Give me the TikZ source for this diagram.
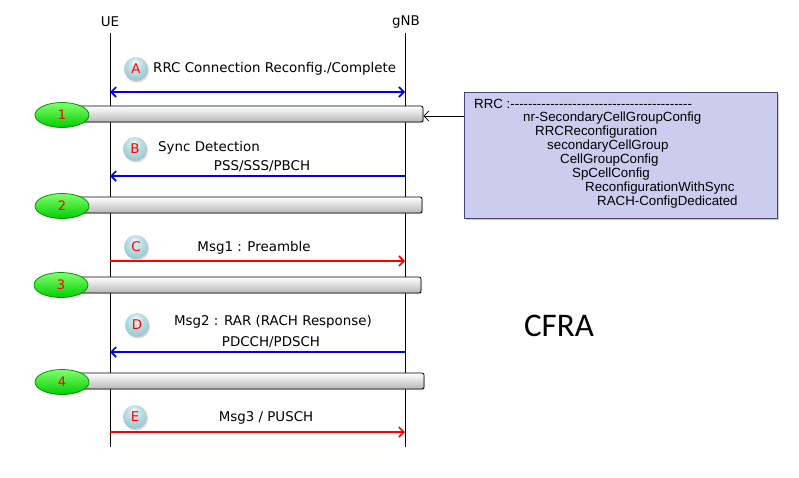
\documentclass[tikz,border=0pt]{standalone}
\usepackage{fontspec}
\setmainfont{DejaVu Sans}
\newfontfamily\boxfont{Liberation Sans}
\newfontfamily\bigfont{Carlito}
\usetikzlibrary{arrows.meta,shadows,shapes.geometric}
\definecolor{msgblue}{RGB}{0,0,240}
\definecolor{msgred}{RGB}{250,0,0}
\definecolor{boxfill}{RGB}{204,204,238}
\definecolor{boxedge}{RGB}{70,70,120}
\definecolor{ballc}{RGB}{170,212,220}
\definecolor{greentop}{RGB}{130,255,110}
\definecolor{greenbot}{RGB}{0,205,0}
\definecolor{greenedge}{RGB}{0,150,0}
\pgfdeclareradialshading{lightball}{\pgfqpoint{-3bp}{14bp}}{%
  color(0bp)=(white);
  color(8bp)=(ballc!55!white);
  color(22bp)=(ballc);
  color(40bp)=(ballc!85!black);
  color(60bp)=(ballc!60!black)}
\tikzset{
  lbl/.style={font=\fontsize{13.4}{15}\selectfont, inner sep=0pt},
  boxtxt/.style={font=\boxfont\fontsize{13.3}{15}\selectfont, inner sep=0pt, anchor=west},
  lifeline/.style={draw=black, line width=0.9pt},
  bluemsg/.style={draw=msgblue, line width=1.8pt},
  redmsg/.style={draw=msgred, line width=1.8pt},
  tip/.style={-{Straight Barb[length=5pt,width=10pt,line width=1.6pt]}},
  bartip/.style={{Straight Barb[length=5pt,width=10pt,line width=1.6pt]}-{Straight Barb[length=5pt,width=10pt,line width=1.6pt]}},
  stepbar/.style={rectangle, rounded corners=2pt, draw=black, line width=0.8pt,
    top color=white, bottom color=black!28, minimum height=16pt, inner sep=0pt,
    drop shadow={shadow xshift=1pt, shadow yshift=-1pt, opacity=0.3}},
  greenball/.style={ellipse, draw=greenedge, line width=0.8pt, top color=greentop, bottom color=greenbot,
    minimum width=54pt, minimum height=25pt, inner sep=0pt, text=red,
    font=\fontsize{13}{14}\selectfont},
  letterball/.style={circle, shading=lightball, minimum size=24pt, inner sep=0pt,
    text=red, font=\fontsize{13.4}{14}\selectfont,
    drop shadow={shadow xshift=1pt, shadow yshift=-1.5pt, opacity=0.3}},
}
\begin{document}
\begin{tikzpicture}[x=1pt,y=-1pt]
\useasboundingbox (0,0) rectangle (799,477);
% lifelines
\node[lbl] (ue) at (110,22) {UE};
\node[lbl] (gnb) at (406,22) {gNB};
\coordinate (ueT) at (110,33);
\coordinate (ueB) at (110,447);
\coordinate (gnT) at (405,33);
\coordinate (gnB) at (405,447);
\draw[lifeline] (ueT) -- (ueB);
\draw[lifeline] (gnT) -- (gnB);

% A
\coordinate (a1) at (110,92); \coordinate (a2) at (405,92);
\draw[bluemsg, bartip] (a1) -- (a2);
\node[letterball] (ba) at (136,69) {A};
\node[lbl, anchor=west] (ta) at (153,69) {RRC Connection Reconfig./Complete};

% bar 1
\node[stepbar, minimum width=365pt] (bar1) at (240.5,114) {};
\node[greenball] (g1) at (62,115) {1};

% B
\coordinate (b1) at (405,176); \coordinate (b2) at (110,176);
\draw[bluemsg, tip] (b1) -- (b2);
\node[letterball] (bb) at (135,149) {B};
\node[lbl, anchor=west] (tb1) at (158,148) {Sync Detection};
\node[lbl] (tb2) at (262,166) {PSS/SSS/PBCH};

% bar 2
\node[stepbar, minimum width=364pt] (bar2) at (240,205) {};
\node[greenball] (g2) at (62,206) {2};

% C
\coordinate (c1) at (110,261); \coordinate (c2) at (405,261);
\draw[redmsg, tip] (c1) -- (c2);
\node[letterball] (bc) at (136,247) {C};
\node[lbl] (tc) at (254,248) {Msg1 : Preamble};

% bar 3
\node[stepbar, minimum width=363pt] (bar3) at (239.5,285) {};
\node[greenball] (g3) at (61,285) {3};

% D
\coordinate (d1) at (405,352); \coordinate (d2) at (110,352);
\draw[bluemsg, tip] (d1) -- (d2);
\node[letterball] (bd) at (137,325) {D};
\node[lbl] (td1) at (273,322) {Msg2 : RAR (RACH Response)};
\node[lbl] (td2) at (271,342) {PDCCH/PDSCH};

% bar 4
\node[stepbar, minimum width=366pt] (bar4) at (241,381) {};
\node[greenball] (g4) at (62,382) {4};

% E
\coordinate (e1) at (110,432); \coordinate (e2) at (405,432);
\draw[redmsg, tip] (e1) -- (e2);
\node[letterball] (be) at (135,417) {E};
\node[lbl] (te) at (266,418) {Msg3 / PUSCH};

% RRC box
\node[rectangle, draw=boxedge, line width=0.8pt, fill=boxfill, minimum width=313pt, minimum height=126pt,
  inner sep=0pt, drop shadow={shadow xshift=1.5pt, shadow yshift=-1.5pt, opacity=0.4}] (rrc) at (620.5,155) {};
\node[boxtxt] (r0) at (474,104) {RRC :-----------------------------------------};
\node[boxtxt] (r1) at (523,118) {nr-SecondaryCellGroupConfig};
\node[boxtxt] (r2) at (535,132) {RRCReconfiguration};
\node[boxtxt] (r3) at (547,146) {secondaryCellGroup};
\node[boxtxt] (r4) at (560,160) {CellGroupConfig};
\node[boxtxt] (r5) at (572,174) {SpCellConfig};
\node[boxtxt] (r6) at (585,188) {ReconfigurationWithSync};
\node[boxtxt] (r7) at (597,202) {RACH-ConfigDedicated};
\coordinate (rin) at (rrc.west |- 0,116);
\draw[line width=0.7pt, -{Straight Barb[length=5pt,width=10pt,line width=0.7pt]}] (rin) -- (bar1.east |- rin);

% CFRA
\node[font=\bigfont\fontsize{33}{36}\selectfont, inner sep=0pt] (cfra) at (559,326) {CFRA};
\end{tikzpicture}
\end{document}
